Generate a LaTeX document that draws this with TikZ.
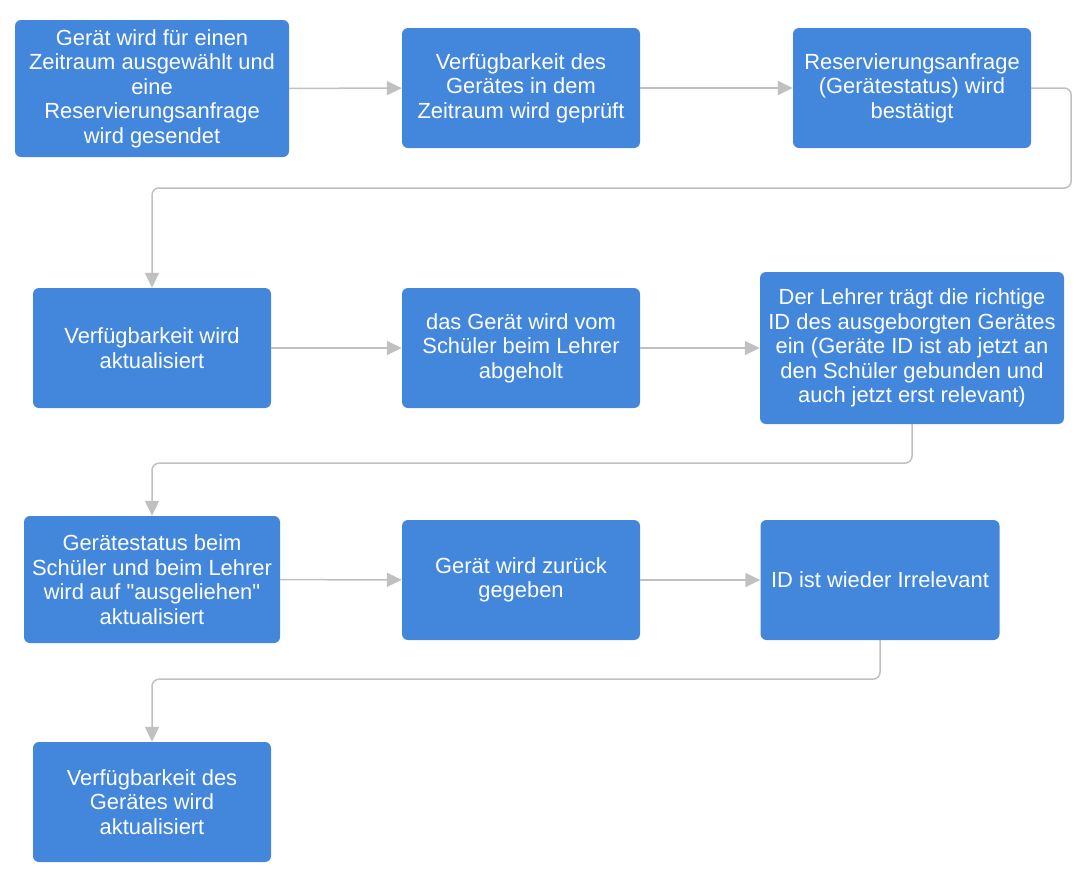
\documentclass[tikz,border=0pt]{standalone}
\usepackage{fontspec}
\setmainfont{Liberation Sans}
\usetikzlibrary{arrows.meta}
\definecolor{taskblue}{HTML}{4287DC}
\definecolor{flowgray}{HTML}{C0C0C0}
\tikzstyle{every node}=[font=\fontsize{21.9}{24.5}\selectfont]
\tikzstyle{task}=[rectangle,
                  rounded corners=6pt,
                  fill=taskblue,
                  text=white,
                  align=center,
                  inner sep=0pt,
                  minimum width=238pt,
                  minimum height=120pt
                  ]
\tikzstyle{flow}=[draw=flowgray,
                  line width=1.5pt,
                  rounded corners=7pt]

\begin{document}
\begin{tikzpicture}[x=1pt,y=-1pt,>={Triangle[length=15pt,width=14pt]}]
\useasboundingbox (0,0) rectangle (1086,876);
\node (T_1)   [task,minimum width=274pt,minimum height=137pt] at (152,88.5) {Gerät wird für einen\\Zeitraum ausgewählt und\\eine\\Reservierungsanfrage\\wird gesendet};
\node (T_2)   [task] at (521,88) {Verfügbarkeit des\\Gerätes in dem\\Zeitraum wird geprüft};
\node (T_3)   [task] at (912,88) {Reservierungsanfrage\\(Gerätestatus) wird\\bestätigt};
\node (T_4)   [task] at (152,348) {Verfügbarkeit wird\\aktualisiert};
\node (T_5)   [task] at (521,348) {das Gerät wird vom\\Schüler beim Lehrer\\abgeholt};
\node (T_6)   [task,minimum width=304pt,minimum height=152pt] at (912,348) {Der Lehrer trägt die richtige\\ID des ausgeborgten Gerätes\\ein (Geräte ID ist ab jetzt an\\den Schüler gebunden und\\auch jetzt erst relevant)};
\node (T_7)   [task,minimum width=256pt,minimum height=127pt] at (152,579.5) {Gerätestatus beim\\Schüler und beim Lehrer\\wird auf \textquotedbl ausgeliehen\textquotedbl\\aktualisiert};
\node (T_8)   [task] at (521,580) {Gerät wird zurück\\gegeben};
\node (T_9)   [task,minimum width=239pt] at (880,580) {ID ist wieder Irrelevant};
\node (T_10)   [task] at (152,802) {Verfügbarkeit des\\Gerätes wird\\aktualisiert};
 \path[->] (T_1) edge[flow] (T_2);
 \path[->] (T_2) edge[flow] (T_3);
 \path[->] (T_4) edge[flow] (T_5);
 \path[->] (T_5) edge[flow] (T_6);
 \path[->] (T_7) edge[flow] (T_8);
 \path[->] (T_8) edge[flow] (T_9);
 \draw[flow,->] (T_3.east) -- ++(40,0) -- ++(0,100) -| (T_4.north);
 \draw[flow,->] (T_6.south) -- ++(0,39) -| (T_7.north);
 \draw[flow,->] (T_9.south) -- ++(0,39) -| (T_10.north);
\end{tikzpicture}
\end{document}
